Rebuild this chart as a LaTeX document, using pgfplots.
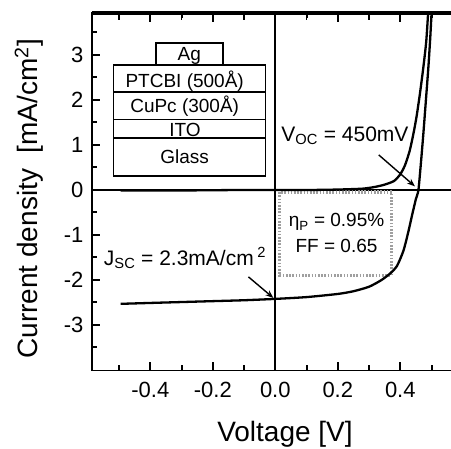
\documentclass[border=0pt]{standalone}
\usepackage{pgfplots}
\pgfplotsset{compat=1.18}
\usepackage{fontspec}
\setmainfont{Liberation Sans}
\usetikzlibrary{arrows.meta}
\begin{document}
\begin{tikzpicture}
\begin{axis}[
  at={(0pt,0pt)}, anchor=south west,
  scale only axis, width=377.19pt, height=357.3pt,
  xmin=-0.587, xmax=0.62, ymin=-4.01, ymax=3.93,
  clip=false,
  axis line style={line width=1.8pt},
  xtick={-0.4,-0.2,0,0.2,0.4},
  xticklabels={-0.4,-0.2,0.0,0.2,0.4},
  ytick={-3,-2,-1,0,1,2,3},
  yticklabels={-3,-2,-1,0,1,2,3},
  minor xtick={-0.5,-0.3,-0.1,0.1,0.3,0.5},
  minor ytick={-3.5,-2.5,-1.5,-0.5,0.5,1.5,2.5,3.5},
  tick align=inside,
  xtick pos=both, ytick pos=both,
  major tick length=8pt, minor tick length=5pt,
  every tick/.append style={black, line width=2pt},
  tick label style={font=\fontsize{22}{26}\selectfont},
  xticklabel style={yshift=-8pt},
  yticklabel style={xshift=-5pt},
  xlabel={Voltage [V]},
  ylabel={Current density\ \ [mA/cm\textsuperscript{2}]},
  label style={font=\fontsize{28}{32}\selectfont},
  xlabel style={at={(axis description cs:0.512,-0.178)}, anchor=center},
  ylabel style={at={(axis description cs:-0.167,0.48)}, anchor=center},
]
% tick marks (drawn explicitly as well)
\pgfplotsinvokeforeach{-0.4,-0.2,0.2,0.4}{
  \draw[line width=2pt] (axis cs:#1,-4.01) -- ++(0pt,8pt);
  \draw[line width=2pt] (axis cs:#1,3.93) -- ++(0pt,-9pt);
}
\pgfplotsinvokeforeach{-0.5,-0.3,-0.1,0.1,0.3,0.5}{
  \draw[line width=1.6pt] (axis cs:#1,-4.01) -- ++(0pt,5pt);
  \draw[line width=1.6pt] (axis cs:#1,3.93) -- ++(0pt,-7pt);
}
\pgfplotsinvokeforeach{-3,-2,-1,1,2,3}{
  \draw[line width=2pt] (axis cs:-0.587,#1) -- ++(8pt,0pt);
}
\pgfplotsinvokeforeach{-3.5,-2.5,-1.5,-0.5,0.5,1.5,2.5,3.5}{
  \draw[line width=1.6pt] (axis cs:-0.587,#1) -- ++(5pt,0pt);
}
% zero lines
\draw[line width=1.6pt] (axis cs:-0.587,0) -- (axis cs:0.62,0);
\draw[line width=1.6pt] (axis cs:0,-4.01) -- (axis cs:0,3.93);
\draw[line width=3.5pt] (axis cs:-0.587,3.93) -- (axis cs:0.62,3.93);

% max power rectangle
\draw[gray!75, line width=3.6pt, dash pattern=on 1.6pt off 1.6pt]
  (axis cs:0.014,-0.05) rectangle (axis cs:0.372,-1.9);

% illuminated curve
\addplot[black, line width=2.3pt, smooth, tension=0.4] coordinates {
(-0.495,-2.53) (-0.4,-2.51) (-0.3,-2.49) (-0.2,-2.47) (-0.1,-2.45) (0,-2.42)
(0.1,-2.38) (0.2,-2.31) (0.25,-2.25) (0.3,-2.15) (0.34,-2.0) (0.37,-1.84)
(0.39,-1.68) (0.41,-1.35) (0.425,-0.95) (0.438,-0.55) (0.45,-0.2) (0.458,0.0)
(0.466,0.6) (0.474,1.27) (0.482,2.0) (0.49,2.74) (0.496,3.4) (0.5,3.93)
};
% dark curve
\addplot[black, line width=2.3pt, smooth, tension=0.4] coordinates {
(-0.495,-0.01) (-0.3,-0.01) (-0.1,0.0) (0.1,0.0) (0.2,0.01) (0.28,0.03)
(0.32,0.07) (0.35,0.12) (0.38,0.2) (0.40,0.35) (0.415,0.55) (0.43,0.87)
(0.442,1.25) (0.452,1.63) (0.463,2.15) (0.474,2.74) (0.483,3.3) (0.489,3.93)
};

% arrows
\draw[line width=1.4pt, -{Stealth[length=8pt,width=6pt]}] (axis cs:0.331,0.78) -- (axis cs:0.447,0.08);
\draw[line width=1.4pt, -{Stealth[length=8pt,width=6pt]}] (axis cs:-0.086,-1.93) -- (axis cs:-0.006,-2.40);

% annotations
\node[anchor=base, inner sep=0pt, font=\fontsize{21}{24}\selectfont] at (axis cs:0.223,1.07) {V\textsubscript{OC} = 450mV};
\node[anchor=base, inner sep=0pt, font=\fontsize{21}{24}\selectfont] at (axis cs:-0.289,-1.67) {J\textsubscript{SC} = 2.3mA/cm\,\textsuperscript{2}};
\node[anchor=base, inner sep=0pt, font=\fontsize{19}{22}\selectfont] at (axis cs:0.196,-0.82) {η\textsubscript{P} = 0.95\%};
\node[anchor=base, inner sep=0pt, font=\fontsize{19}{22}\selectfont] at (axis cs:0.196,-1.38) {FF = 0.65};

% device stack inset
\begin{scope}[line width=1.6pt]
\draw (axis cs:-0.382,2.78) rectangle (axis cs:-0.168,3.26);
\draw (axis cs:-0.518,2.18) rectangle (axis cs:-0.031,2.78);
\draw (axis cs:-0.518,1.57) rectangle (axis cs:-0.031,2.18);
\draw (axis cs:-0.518,1.16) rectangle (axis cs:-0.031,1.57);
\draw (axis cs:-0.518,0.31) rectangle (axis cs:-0.031,1.16);
\end{scope}
\begin{scope}[every node/.style={anchor=base, inner sep=0pt, font=\fontsize{19}{22}\selectfont}]
\node at (axis cs:-0.275,2.87) {Ag};
\node at (axis cs:-0.29,2.28) {PTCBI (500Å)};
\node at (axis cs:-0.29,1.73) {CuPc (300Å)};
\node at (axis cs:-0.289,1.18) {ITO};
\node at (axis cs:-0.29,0.59) {Glass};
\end{scope}
\end{axis}
\pgfresetboundingbox
\path[use as bounding box] (-91.86pt,-78.55pt) rectangle (359.14pt,370.45pt);
\end{tikzpicture}
\end{document}
